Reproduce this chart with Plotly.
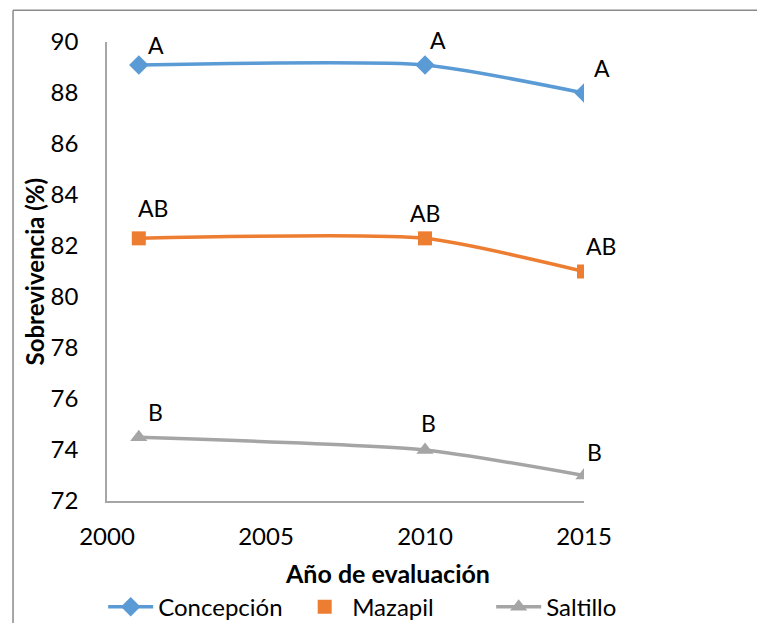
import plotly.graph_objects as go

# Survival (%) by evaluation year for three sites
years = [2001, 2010, 2015]
concepcion = [89.1, 89.1, 88.0]
mazapil = [82.3, 82.3, 81.0]
saltillo = [74.5, 74.0, 73.0]

# Significance letters for each point
letters_concepcion = ["A", "A", "A"]
letters_mazapil = ["AB", "AB", "AB"]
letters_saltillo = ["B", "B", "B"]

x_ticks = [2000, 2005, 2010, 2015]
y_ticks = [72, 74, 76, 78, 80, 82, 84, 86, 88, 90]

FONT = "Lato"
BLUE = "#5B9BD5"
ORANGE = "#ED7D31"
GRAY = "#A5A5A5"
SMOOTH = 0.6

fig = go.Figure()

fig.add_trace(go.Scatter(
    x=years, y=concepcion, name="Concepción", mode="lines+markers",
    line=dict(color=BLUE, width=3.5, shape="spline", smoothing=SMOOTH),
    marker=dict(symbol="diamond", size=15, color=BLUE),
))
# Mazapil: the curve is drawn separately so its legend entry shows the marker only
fig.add_trace(go.Scatter(
    x=years, y=mazapil, name="Mazapil", mode="lines", showlegend=False,
    line=dict(color=ORANGE, width=3.5, shape="spline", smoothing=SMOOTH),
    hoverinfo="skip",
))
fig.add_trace(go.Scatter(
    x=years, y=mazapil, name="Mazapil", mode="markers",
    marker=dict(symbol="square", size=14, color=ORANGE),
))
fig.add_trace(go.Scatter(
    x=years, y=saltillo, name="Saltillo", mode="lines+markers",
    line=dict(color=GRAY, width=3.5, shape="spline", smoothing=SMOOTH),
    marker=dict(symbol="triangle-up", size=15, color=GRAY),
))

# Letter label placement (pixel offsets from each point)
label_offsets = {
    "concepcion": [(17, 20), (13, 25), (18, 25)],
    "mazapil": [(14, 30), (0, 25), (17, 26)],
    "saltillo": [(17, 25), (3, 27), (10, 24)],
}
series = [
    ("concepcion", concepcion, letters_concepcion),
    ("mazapil", mazapil, letters_mazapil),
    ("saltillo", saltillo, letters_saltillo),
]
for key, values, letters in series:
    for (xv, yv, txt, (dx, dy)) in zip(years, values, letters, label_offsets[key]):
        fig.add_annotation(
            x=xv, y=yv, text=txt, showarrow=False,
            xshift=dx, yshift=dy,
            font=dict(family=FONT, size=23, color="#000000"),
        )

# Axis titles
fig.add_annotation(
    xref="paper", yref="paper", x=0.589, y=-0.157,
    xanchor="center", yanchor="middle", showarrow=False,
    text="<b>Año de evaluación</b>",
    font=dict(family=FONT, size=25, color="#000000"),
)
fig.add_annotation(
    xref="paper", yref="paper", x=-0.151, y=0.5,
    xanchor="center", yanchor="middle", showarrow=False, textangle=-90,
    text="<b>Sobrevivencia (%)</b>",
    font=dict(family=FONT, size=24, color="#000000"),
)

# Outer chart frame (top and left edges)
fig.add_shape(type="line", xref="paper", yref="paper",
              x0=-0.197, x1=1.4, y0=1.069, y1=1.069,
              line=dict(color="#8a8a8a", width=1.5))
fig.add_shape(type="line", xref="paper", yref="paper",
              x0=-0.197, x1=-0.197, y0=1.069, y1=-0.3,
              line=dict(color="#8a8a8a", width=1.5))

fig.update_layout(
    width=757, height=623,
    margin=dict(l=107, r=173, t=42, b=122, autoexpand=False),
    paper_bgcolor="white", plot_bgcolor="white",
    font=dict(family=FONT, size=24, color="#000000"),
    showlegend=True,
    legend=dict(
        orientation="h", xref="paper", x=-0.008, xanchor="left",
        yref="paper", y=-0.231, yanchor="middle",
        font=dict(family=FONT, size=24, color="#000000"),
        bgcolor="rgba(0,0,0,0)", itemwidth=45,
        entrywidth=134, entrywidthmode="pixels",
    ),
    xaxis=dict(
        range=[2000, 2015], tickvals=x_ticks, ticktext=[str(v) for v in x_ticks],
        showgrid=False, zeroline=False, showline=True, automargin=False,
        linecolor="#a6a6a6", linewidth=1.5, ticks="",
        tickfont=dict(family=FONT, size=24),
        ticklabelstandoff=13,
    ),
    yaxis=dict(
        range=[72, 90], tickvals=y_ticks,
        showgrid=False, zeroline=False, showline=True, automargin=False,
        linecolor="#a6a6a6", linewidth=1.5, ticks="",
        tickfont=dict(family=FONT, size=24),
        ticklabelstandoff=22,
    ),
)

fig.write_html("out.html")
